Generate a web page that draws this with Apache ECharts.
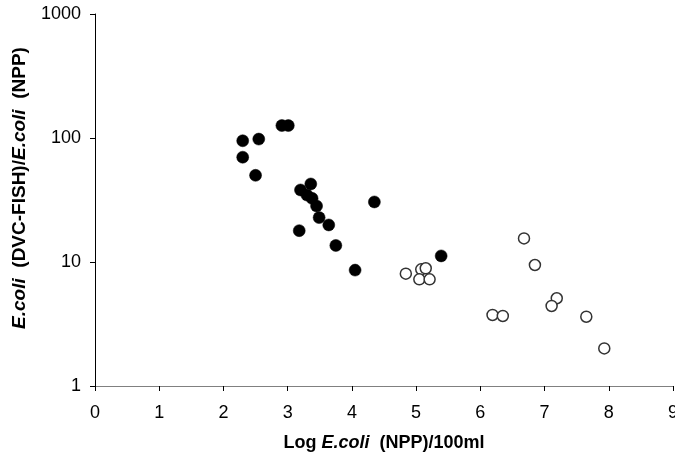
<!DOCTYPE html>
<html>
<head>
<meta charset="utf-8">
<script src="https://cdn.jsdelivr.net/npm/echarts@6/dist/echarts.min.js"></script>
<style>
html,body{margin:0;padding:0;background:#fff;}
#chart{width:675px;height:457px;}
</style>
</head>
<body>
<div id="chart"></div>
<script>
// Filled circles: [log E.coli (NPP)/100ml, ratio]
const filledX = [2.30, 2.55, 2.30, 2.50, 2.91, 3.01, 3.36, 3.20, 3.30, 3.38, 3.45, 3.49, 3.64, 3.18, 3.75, 4.05, 4.35, 5.39];
const filledY = [95, 98, 70, 50, 126, 126, 42.6, 38.1, 34.7, 32.6, 28.3, 22.8, 19.9, 17.9, 13.6, 8.6, 30.5, 11.2];
// Open circles
const openX = [4.84, 5.08, 5.15, 5.05, 5.21, 6.68, 6.85, 7.19, 7.11, 6.19, 6.35, 7.65, 7.93];
const openY = [8.05, 8.73, 8.9, 7.25, 7.25, 15.5, 9.46, 5.1, 4.42, 3.74, 3.67, 3.62, 2.01];
const xTicks = [0, 1, 2, 3, 4, 5, 6, 7, 8, 9];
const yTicks = [1, 10, 100, 1000];

const pair = (xs, ys) => xs.map((x, i) => [x, ys[i]]);
const FONT = 'Liberation Sans, Arial, sans-serif';

const chart = echarts.init(document.getElementById('chart'));
chart.setOption({
  animation: false,
  backgroundColor: '#fff',
  grid: { left: 95, right: 2, top: 14, bottom: 71, containLabel: false, outerBoundsMode: 'none' },
  xAxis: {
    type: 'value',
    min: xTicks[0], max: xTicks[xTicks.length - 1], interval: 1,
    name: '{b|Log }{bi|E.coli}{b|  (NPP)/100ml}',
    nameLocation: 'middle',
    nameGap: 48,
    nameTextStyle: {
      rich: {
        b: { fontFamily: FONT, fontSize: 18, fontWeight: 'bold', color: '#000' },
        bi: { fontFamily: FONT, fontSize: 18, fontWeight: 'bold', fontStyle: 'italic', color: '#000' }
      }
    },
    axisLine: { show: true, onZero: false, lineStyle: { color: '#808080', width: 1 } },
    axisTick: { show: true, length: 5, lineStyle: { color: '#000' } },
    axisLabel: { fontFamily: FONT, fontSize: 18, color: '#000', margin: 18, showMaxLabel: true },
    splitLine: { show: false }
  },
  yAxis: {
    type: 'log', logBase: 10,
    min: yTicks[0], max: yTicks[yTicks.length - 1],
    name: '{bi|E.coli}{b|  (DVC-FISH)/}{bi|E.coli}{b|  (NPP)}',
    nameLocation: 'middle',
    nameRotate: 90,
    nameGap: 66,
    nameTextStyle: {
      padding: [0, 0, 0, 24],
      rich: {
        b: { fontFamily: FONT, fontSize: 19, fontWeight: 'bold', color: '#000' },
        bi: { fontFamily: FONT, fontSize: 19, fontWeight: 'bold', fontStyle: 'italic', color: '#000' }
      }
    },
    axisLine: { show: true, lineStyle: { color: '#000', width: 1 } },
    axisTick: { show: true, length: 5, lineStyle: { color: '#000' } },
    minorTick: { show: false },
    axisLabel: { fontFamily: FONT, fontSize: 18, color: '#000', margin: 14, formatter: v => String(v) },
    splitLine: { show: false }
  },
  series: [
    {
      type: 'scatter',
      data: pair(filledX, filledY),
      symbol: 'circle',
      symbolSize: 12,
      itemStyle: { color: '#000', borderColor: '#000', borderWidth: 0.5, opacity: 1 }
    },
    {
      type: 'scatter',
      data: pair(openX, openY),
      symbol: 'circle',
      symbolSize: 11,
      itemStyle: { color: '#fff', borderColor: '#333', borderWidth: 1.5, opacity: 1 }
    }
  ]
});
</script>
</body>
</html>
